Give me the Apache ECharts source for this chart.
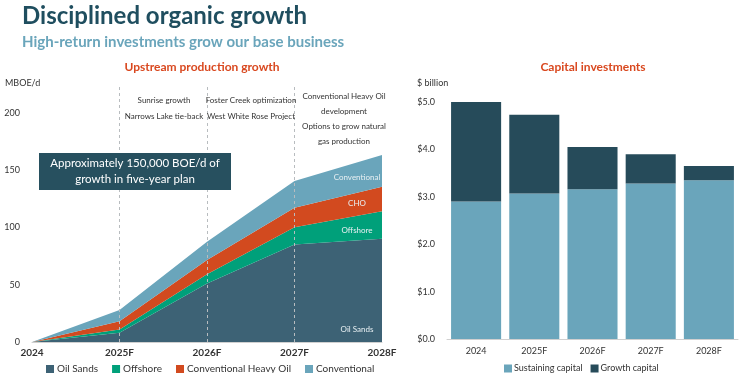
<!DOCTYPE html>
<html>
<head>
<meta charset="utf-8">
<script src="https://cdn.jsdelivr.net/npm/echarts@6/dist/echarts.min.js"></script>
<style>
  html, body { margin: 0; padding: 0; background: #fff; }
  #chart { width: 743px; height: 373px; }
</style>
</head>
<body>
<div id="chart"></div>
<script>
// production (MBOE/d, incremental growth)
const years = ['2024', '2025F', '2026F', '2027F', '2028F'];
const oilSands = [0, 8, 51, 85, 90];
const offshore = [0, 3, 8, 15, 24];
const heavyOil = [0, 7, 12.5, 17, 21.5];
const conventional = [0, 10, 16, 23.5, 27.5];

// capital ($ billion)
const sustaining = [2.9, 3.07, 3.16, 3.28, 3.35];
const growth = [2.1, 1.66, 0.89, 0.62, 0.3];

const milestones = ['2025F', '2026F', '2027F'];

const FONT = 'Lato, "Open Sans", sans-serif';
const C = {
    oil: '#3d6275',
    off: '#00a07a',
    cho: '#d24a1f',
    conv: '#6aa5bb',
    grow: '#264b5a',
    dark: '#1f4e5f'
};

const chart = echarts.init(document.getElementById('chart'));

function area(name, data, color) {
    return {
        name, type: 'line', stack: 'prod', data,
        symbol: 'none', lineStyle: {width: 0},
        areaStyle: {color, opacity: 1}, itemStyle: {color},
        xAxisIndex: 0, yAxisIndex: 0
    };
}

function note(x, y, text, lh) {
    return {
        type: 'text', x, y, z: 100,
        style: {text, fill: '#333', font: '8px ' + FONT, align: 'center', lineHeight: lh || 16}
    };
}

function inLabel(y, text) {
    return {
        type: 'text', x: 357, y, z: 100,
        style: {text, fill: '#e8f0f3', font: '8px ' + FONT, align: 'center', verticalAlign: 'middle'}
    };
}

const prodSeries = [
    area('Oil Sands', oilSands, C.oil),
    area('Offshore', offshore, C.off),
    area('Conventional Heavy Oil', heavyOil, C.cho),
    area('Conventional', conventional, C.conv)
];
prodSeries[0].markLine = {
    silent: true, symbol: 'none', label: {show: false},
    lineStyle: {color: '#b8bcbf', type: [3, 3], width: 1},
    data: milestones.map(m => ({xAxis: m}))
};

chart.setOption({
    animation: false,
    textStyle: {fontFamily: FONT},
    title: [
        {text: 'Disciplined organic growth', left: 17, top: -1,
            textStyle: {fontSize: 24, fontWeight: 'bold', color: C.dark}},
        {text: 'High-return investments grow our base business', left: 17, top: 30,
            textStyle: {fontSize: 15, fontWeight: 'bold', color: C.conv}},
        {text: 'Upstream production growth', left: 197, top: 56, textAlign: 'center',
            textStyle: {fontSize: 12, fontWeight: 'bold', color: '#d9481f'}},
        {text: 'Capital investments', left: 588, top: 56, textAlign: 'center',
            textStyle: {fontSize: 12, fontWeight: 'bold', color: '#d9481f'}}
    ],
    legend: [
        {data: ['Oil Sands', 'Offshore', 'Conventional Heavy Oil', 'Conventional'],
            left: 41, top: 359, itemWidth: 8, itemHeight: 8, itemGap: 14, icon: 'rect',
            textStyle: {fontSize: 10, color: '#333', padding: [0, 0, 0, -2]}},
        {data: ['Sustaining capital', 'Growth capital'],
            left: 499, top: 359, itemWidth: 8, itemHeight: 8, itemGap: 8, icon: 'rect',
            textStyle: {fontSize: 9, color: '#333', padding: [0, 0, 0, -3]}}
    ],
    grid: [
        {left: 32, right: 361, top: 84, bottom: 31},
        {left: 447, right: 5, top: 102, bottom: 34}
    ],
    xAxis: [
        {type: 'category', gridIndex: 0, data: years, boundaryGap: false,
            axisLine: {lineStyle: {color: '#d0d0d0'}}, axisTick: {show: false},
            axisLabel: {fontSize: 10, fontWeight: 'bold', color: '#333', margin: 6,
                showMinLabel: true, showMaxLabel: true, interval: 0}},
        {type: 'category', gridIndex: 1, data: years,
            axisLine: {lineStyle: {color: '#d0d0d0'}}, axisTick: {show: false},
            axisLabel: {fontSize: 9, color: '#333', margin: 8}}
    ],
    yAxis: [
        {type: 'value', gridIndex: 0, min: 0, max: 225, interval: 50,
            axisLine: {show: false}, axisTick: {show: false}, splitLine: {show: false},
            axisLabel: {fontSize: 9, color: '#333', margin: 12,
                formatter: v => (v > 200 ? '' : v)}},
        {type: 'value', gridIndex: 1, min: 0, max: 5, interval: 1,
            axisLine: {show: false}, axisTick: {show: false}, splitLine: {show: false},
            axisLabel: {fontSize: 9, color: '#333', margin: 12,
                formatter: v => '$' + v.toFixed(1)}}
    ],
    series: [
        ...prodSeries,
        {name: 'Sustaining capital', type: 'bar', stack: 'cap', data: sustaining,
            xAxisIndex: 1, yAxisIndex: 1, barCategoryGap: '14%',
            itemStyle: {color: C.conv}},
        {name: 'Growth capital', type: 'bar', stack: 'cap', data: growth,
            xAxisIndex: 1, yAxisIndex: 1, barCategoryGap: '14%',
            itemStyle: {color: C.grow}}
    ],
    graphic: [
        {type: 'text', left: 5, top: 79, style: {text: 'MBOE/d', fill: '#333', font: '9px ' + FONT}},
        {type: 'text', left: 417, top: 79, style: {text: '$ billion', fill: '#333', font: '9px ' + FONT}},
        note(164, 92, 'Sunrise growth\nNarrows Lake tie-back'),
        note(251, 92, 'Foster Creek optimization\nWest White Rose Project'),
        note(344, 89, 'Conventional Heavy Oil\ndevelopment\nOptions to grow natural\ngas production', 15),
        {type: 'rect', x: 39, y: 153, z: 100, shape: {width: 192, height: 37},
            style: {fill: '#27505f'}},
        {type: 'text', x: 135, y: 171.5, z: 101,
            style: {text: 'Approximately 150,000 BOE/d of\ngrowth in five-year plan',
                fill: '#fff', font: '11.5px ' + FONT, align: 'center',
                verticalAlign: 'middle', lineHeight: 16}},
        inLabel(177, 'Conventional'),
        inLabel(203, 'CHO'),
        inLabel(230, 'Offshore'),
        inLabel(329, 'Oil Sands')
    ]
});
</script>
</body>
</html>
